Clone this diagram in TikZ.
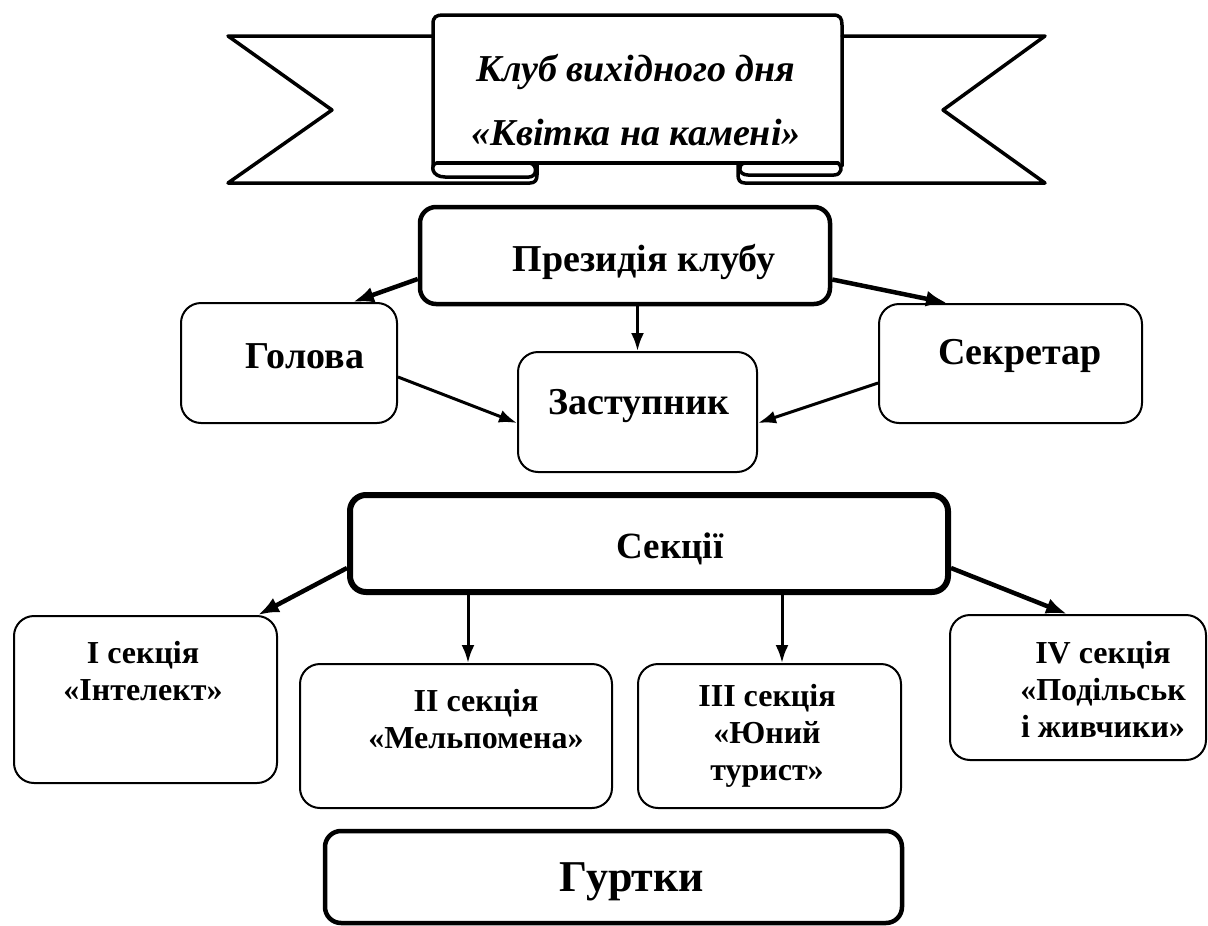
\documentclass[tikz,border=0pt]{standalone}
\usepackage{fontspec}
\setmainfont{Liberation Serif}
\usetikzlibrary{arrows.meta}

\begin{document}
\begin{tikzpicture}[x=1pt, y=-1pt,
    box/.style={draw, line width=2pt, rounded corners=20pt, inner sep=0pt},
    bigbox/.style={box, line width=4.5pt, rounded corners=16pt},
    txt/.style={align=center, font=\fontsize{38}{44}\selectfont\bfseries},
    sectxt/.style={align=center, font=\fontsize{32}{37}\selectfont\bfseries},
    band/.style={line width=3.5pt, line join=round, line cap=round},
    arr/.style={line width=3pt, -{Latex[length=18pt, width=13pt]}},
    warr/.style={line width=4.5pt, -{Latex[length=21pt, width=16pt]}}]
    \useasboundingbox (0,0) rectangle (1208,926);
    \draw[band] (433,36) -- (228,36) -- (332,110) -- (228,183) -- (530,183)
      .. controls (535,183) and (537,180) .. (537,175) -- (537,163);
    \draw[band] (842,36) -- (1045,36) -- (943,110) -- (1045,183) -- (745,183)
      .. controls (740,183) and (738,180) .. (738,175) -- (738,163);
    \draw[band] (433,166) -- (433,24) .. controls (433,17) and (436,15) .. (443,15)
      -- (833,15) .. controls (840,15) and (842,18) .. (842,25) -- (842,166);
    \draw[band] (437,163) -- (838,163);
    \draw[band] (437,163) .. controls (430,164) and (431,177) .. (445,177) -- (529,177)
      .. controls (537,177) and (538,165) .. (530,163);
    \draw[band] (745,163) .. controls (737,164) and (738,175) .. (748,175) -- (834,175)
      .. controls (842,175) and (843,166) .. (838,163);
    \node[align=center, font=\fontsize{38}{64}\selectfont\bfseries\itshape] (title) at (636,100)
      {Клуб вихідного дня\\«Квітка на камені»};

    \node[bigbox, minimum width=410, minimum height=97] (pres) at (625,255.5) {};
    \node[txt] (pres-t) at (644,262) {Президія клубу};
    \node[box, minimum width=216, minimum height=120] (golova) at (289,363) {};
    \node[txt] (golova-t) at (305,356) {Голова};
    \node[box, minimum width=239, minimum height=120] (zast) at (637.5,412) {};
    \node[txt] (zast-t) at (639,406) {Заступник};
    \node[box, minimum width=263, minimum height=119] (sekr) at (1010.5,363.5) {};
    \node[txt] (sekr-t) at (1020,356) {Секретар};

    \draw[warr] ([yshift=-23.5pt]pres.west) -- ([xshift=64pt]golova.north);
    \draw[arr] (pres.south -| zast.north) -- (zast.north);
    \draw[warr] ([yshift=-24pt]pres.east) -- ([xshift=-63.5pt]sekr.north);
    \draw[arr] ([yshift=-14pt]golova.east) -- ([yshift=-11pt]zast.west);
    \draw[arr] ([yshift=-19.5pt]sekr.west) -- ([yshift=-11pt]zast.east);

    \node[bigbox, line width=6pt, minimum width=598, minimum height=97] (sekc) at (649,543.5) {};
    \node[txt, font=\fontsize{37}{44}\selectfont\bfseries] (sekc-t) at (670,549) {Секції};
    \node[box, minimum width=263, minimum height=167] (s1) at (145.5,699.5) {};
    \node[sectxt] (s1-t) at (143,671) {I секція\\«Інтелект»};
    \node[box, minimum width=312, minimum height=144] (s2) at (456,736) {};
    \node[sectxt] (s2-t) at (476,719) {II секція\\«Мельпомена»};
    \node[box, minimum width=263, minimum height=144] (s3) at (769.5,736) {};
    \node[sectxt] (s3-t) at (767,736) {III секція\\«Юний\\турист»};
    \node[box, minimum width=256, minimum height=145] (s4) at (1078,687.5) {};
    \node[sectxt] (s4-t) at (1103,689) {IV секція\\«Подільськ\\і живчики»};

    \draw[warr] ([yshift=-24.5pt]sekc.west) -- ([xshift=112.5pt]s1.north);
    \draw[arr] ([xshift=12pt]s2.north |- sekc.south) -- ([xshift=12pt]s2.north);
    \draw[arr] ([xshift=12.5pt]s3.north |- sekc.south) -- ([xshift=12.5pt]s3.north);
    \draw[warr] ([yshift=-24.5pt]sekc.east) -- ([xshift=-11pt]s4.north);

    \node[bigbox, minimum width=577, minimum height=92] (gurt) at (613.5,877) {};
    \node[txt, font=\fontsize{44}{50}\selectfont\bfseries] (gurt-t) at (632,882) {Гуртки};
\end{tikzpicture}
\end{document}
